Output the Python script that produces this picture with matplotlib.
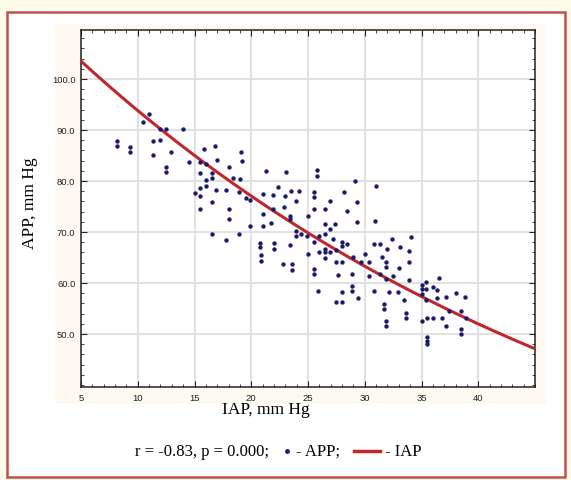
import numpy as np
import matplotlib as mpl
import matplotlib.pyplot as plt
from matplotlib.patches import Rectangle
from matplotlib.lines import Line2D

mpl.rcParams.update({
    'font.family': 'serif',
    'font.serif': ['Liberation Serif', 'DejaVu Serif'],
    'font.size': 12,
})

# IAP (x) and APP (y) values
iap = [11.0, 10.5, 12.0, 12.5, 14.0, 8.2, 8.2, 9.3, 9.3, 11.3, 12.0, 12.9, 11.3,
       12.5, 12.5, 15.8, 16.8, 14.5, 15.5, 16.0, 17.0, 15.5, 16.5, 16.5, 16.0,
       16.0, 18.0, 18.4, 15.0, 15.5, 15.5, 16.5, 16.9, 17.8, 15.5, 18.0, 18.0,
       18.9,
       19.1, 19.2, 19.0, 21.3, 23.1, 25.8, 25.8, 29.1, 31.0, 22.4, 21.0, 21.9,
       23.0, 23.5, 24.2, 23.9, 25.5, 25.5, 26.9, 28.2, 29.3, 19.5, 19.9, 21.9,
       21.0, 22.9, 23.4, 23.4, 21.7, 25.0, 25.5, 26.5, 28.4, 29.3, 30.9,
       16.5, 17.8, 18.9, 19.9, 21.0, 20.8, 20.8, 20.9, 20.9, 22.0, 22.0, 22.8,
       23.6, 23.6, 23.4, 23.9, 23.9, 24.4, 24.9, 25.5, 25.0, 26.0, 26.0, 26.5,
       26.5, 26.9, 27.4, 26.5, 26.5, 26.5, 26.9, 27.2, 28.0, 28.0, 28.4, 27.5,
       27.5, 28.0, 29.0, 30.0, 29.7, 25.5, 25.5, 27.6, 28.9, 30.4, 30.4, 30.8,
       25.9, 28.0, 28.9, 28.9, 29.4, 27.5, 28.0, 30.8,
       31.3, 32.4, 32.0, 31.5, 31.9, 31.9, 31.9, 31.3, 32.5, 33.1, 33.9, 34.1,
       33.9, 33.0, 33.9, 32.1, 32.9, 33.5, 31.7, 31.7, 31.9, 31.9, 33.6, 33.6,
       35.0, 35.0, 35.4, 35.4, 35.0, 36.0, 36.5, 36.4, 36.4, 35.4, 37.2, 38.0,
       38.8, 37.4, 38.5, 38.9, 36.8, 35.0, 35.5, 36.0, 37.2, 38.5, 38.5, 35.5,
       35.5, 35.5]
app = [93.1, 91.6, 90.2, 90.2, 90.2, 87.9, 86.9, 86.6, 85.6, 87.9, 88.0, 85.7, 85.1,
       82.7, 81.7, 86.3, 86.8, 83.7, 83.7, 83.3, 84.1, 81.5, 81.5, 80.5, 80.1,
       79.1, 82.7, 80.5, 77.6, 78.6, 77.1, 75.8, 78.2, 78.2, 74.6, 74.5, 72.5,
       77.9,
       85.7, 84.0, 80.3, 82.0, 81.8, 82.2, 80.9, 79.9, 79.1, 78.8, 77.5, 77.3,
       77.0, 78.0, 78.1, 76.0, 77.8, 76.8, 76.1, 77.9, 75.9, 76.6, 76.3, 74.5,
       73.5, 74.8, 73.2, 72.5, 71.8, 73.2, 74.6, 74.6, 74.1, 71.9, 72.1,
       69.6, 68.4, 69.6, 71.1, 71.1, 67.8, 67.0, 65.5, 64.3, 67.8, 66.7, 63.7,
       63.7, 62.5, 67.5, 70.1, 69.3, 69.6, 69.3, 68.0, 65.7, 69.3, 66.1, 71.6,
       69.6, 70.6, 71.6, 66.7, 66.0, 64.8, 66.1, 68.6, 68.0, 67.3, 67.6, 66.5,
       64.1, 64.1, 65.0, 65.7, 64.1, 62.7, 61.7, 61.6, 61.8, 64.1, 61.3, 67.6,
       58.5, 58.3, 59.5, 58.5, 57.0, 56.2, 56.2, 58.5,
       67.6, 68.6, 66.7, 65.0, 64.1, 63.1, 60.8, 61.8, 61.4, 67.0, 66.2, 69.0,
       64.1, 62.9, 60.5, 58.2, 58.3, 56.7, 55.9, 54.9, 52.6, 51.6, 54.1, 53.1,
       59.6, 58.9, 60.1, 58.8, 57.8, 59.2, 61.0, 58.6, 57.0, 56.7, 57.2, 58.0,
       57.2, 54.6, 54.6, 53.1, 53.1, 52.6, 53.1, 53.1, 51.6, 51.0, 50.0, 49.4,
       48.7, 48.0]

# fitted curve, values read at both ends of the x range
fit_x = [5, 45]
fit_y = [103.5, 47.1]

x_ticks = [5, 10, 15, 20, 25, 30, 35, 40]
y_ticks = [50, 60, 70, 80, 90, 100]

W, H = 571, 481
fig = plt.figure(figsize=(W / 100, H / 100), dpi=100)
fig.patch.set_facecolor('#fffbea')

# white page with reddish border
fig.patches.append(Rectangle((7 / W, 1 - 478 / H), 558 / W, 465 / H, transform=fig.transFigure,
                             facecolor='white', edgecolor='#c0504d', lw=1.8, zorder=-2))
fig.patches.append(Rectangle((55 / W, 1 - 405 / H), 491 / W, 380 / H, transform=fig.transFigure,
                             facecolor='#fefaf1', edgecolor='none', zorder=-1))

ax = fig.add_axes([81 / W, 1 - 388 / H, 454 / W, 357 / H])
ax.set_zorder(2)
ax.set_facecolor('white')

b = np.log(fit_y[1] / fit_y[0]) / (fit_x[1] - fit_x[0])
xx = np.linspace(fit_x[0], fit_x[1], 200)
ax.plot(xx, fit_y[0] * np.exp(b * (xx - fit_x[0])), color='#c0272d', lw=2.2, zorder=3)
ax.scatter(iap, app, s=10, color='#1b1b6b', zorder=4, linewidths=0)

ax.set_xlim(5, 45)
ax.set_ylim(39.6, 109.6)
ax.set_xticks(x_ticks)
ax.set_yticks(y_ticks)
ax.set_xticklabels([str(t) for t in x_ticks])
ax.set_yticklabels(['%.1f' % t for t in y_ticks])
ax.set_xticks(np.arange(5, 46, 1), minor=True)
ax.set_yticks(np.arange(40, 110, 2), minor=True)
ax.grid(True, which='major', color='#dedede', lw=1.3)
ax.set_axisbelow(True)
ax.tick_params(which='both', direction='in', top=True, right=True, colors='#222222')
ax.tick_params(which='major', length=4, labelsize=6.8, pad=4)
ax.tick_params(which='minor', length=2)
for lab in ax.get_xticklabels() + ax.get_yticklabels():
    lab.set_family('Liberation Sans')
for sp in ax.spines.values():
    sp.set_linewidth(1.1)
    sp.set_color('#222222')

fig.text(30 / W, 1 - 203 / H, 'APP, mm Hg', rotation=90, ha='center', va='center', fontsize=12.5)
fig.text(266 / W, 1 - 410 / H, 'IAP, mm Hg', ha='center', va='center', fontsize=12.5)

# caption with legend symbols
ly = 1 - 452 / H
fig.text(135 / W, ly, 'r = -0.83, p = 0.000;', ha='left', va='center', fontsize=12)
fig.lines.append(Line2D([287 / W], [ly], transform=fig.transFigure, marker='o', ms=2.5,
                        color='#1b1b8b', lw=0))
fig.text(296 / W, ly, '- APP;', ha='left', va='center', fontsize=12)
fig.lines.append(Line2D([354 / W, 380 / W], [ly, ly], transform=fig.transFigure,
                        color='#c0272d', lw=2.5))
fig.text(385 / W, ly, '- IAP', ha='left', va='center', fontsize=12)

fig.savefig('out.png', dpi=100, facecolor=fig.get_facecolor())
